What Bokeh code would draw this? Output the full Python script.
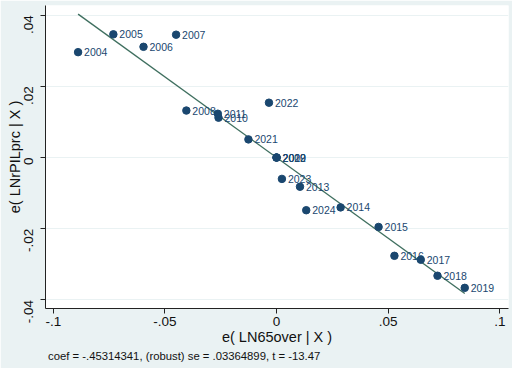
import math
from bokeh.plotting import figure
from bokeh.models import ColumnDataSource, FixedTicker, LabelSet, Title
from bokeh.embed import file_html
from bokeh.resources import INLINE
from bokeh.core.properties import value

# ---- data ----
years = ["2004", "2005", "2006", "2007", "2008", "2009", "2010", "2011", "2012",
         "2013", "2014", "2015", "2016", "2017", "2018", "2019", "2020", "2021",
         "2022", "2023", "2024"]
x_resid = [-0.0889, -0.0731, -0.0596, -0.0450, -0.0404, 0.0000, -0.0260, -0.0263, 0.0000,
           0.0105, 0.0287, 0.0457, 0.0528, 0.0646, 0.0721, 0.0843, 0.0000, -0.0126,
           -0.0034, 0.0024, 0.0133]
y_resid = [0.0296, 0.0346, 0.0311, 0.0345, 0.0132, 0.0000, 0.0112, 0.0123, 0.0000,
           -0.0082, -0.0140, -0.0195, -0.0276, -0.0287, -0.0332, -0.0366, 0.0000, 0.0051,
           0.0154, -0.0060, -0.0148]
coef = -0.45314341
note = "coef = -.45314341, (robust) se = .03364899, t = -13.47"

x_ticks = [-0.1, -0.05, 0.0, 0.05, 0.1]
x_tick_labels = ["-.1", "-.05", "0", ".05", ".1"]
y_ticks = [-0.04, -0.02, 0.0, 0.02, 0.04]
y_tick_labels = ["-.04", "-.02", "0", ".02", ".04"]

FONT = "Liberation Sans"
NAVY = "#1a476f"
BG = "#eaf2f3"

p = figure(frame_width=463, frame_height=303,
           x_range=(-0.1035, 0.1039), y_range=(-0.0424, 0.0427),
           output_backend="svg", toolbar_location=None,
           min_border_left=45, min_border_right=4, min_border_top=5,
           min_border_bottom=60)
p.border_fill_color = BG
p.background_fill_color = "white"
p.outline_line_color = None

# fitted line
xmin, xmax = min(x_resid), max(x_resid)
p.line([xmin, xmax], [coef * xmin, coef * xmax], line_color="#3f6f5f", line_width=1.3)

src = ColumnDataSource(dict(x=x_resid, y=y_resid, t=years))
p.scatter("x", "y", source=src, size=7.5, fill_color=NAVY, line_color=NAVY)
labels = LabelSet(x="x", y="y", text="t", source=src, x_offset=6, y_offset=0,
                  text_baseline="middle", text_font=value(FONT),
                  text_font_size="10.5px", text_color=NAVY)
p.add_layout(labels)

# axes
for ax, ticks, tl in ((p.xaxis[0], x_ticks, x_tick_labels), (p.yaxis[0], y_ticks, y_tick_labels)):
    ax.ticker = FixedTicker(ticks=ticks, minor_ticks=[])
    ax.major_label_overrides = {t: s for t, s in zip(ticks, tl)}
    ax.major_label_text_font = FONT
    ax.major_label_text_font_size = "13.5px"
    ax.major_label_text_color = "#111111"
    ax.axis_label_text_font = FONT
    ax.axis_label_text_font_size = "14.5px"
    ax.axis_label_text_font_style = "normal"
    ax.axis_label_text_color = "#111111"
    ax.axis_line_color = "#222222"
    ax.major_tick_line_color = "#222222"
    ax.major_tick_in = 0
    ax.major_tick_out = 5
    ax.minor_tick_line_color = None

p.xaxis.axis_label = "e( LN65over | X )"
p.yaxis.axis_label = "e( LNrPILprc | X )"
p.xaxis.major_label_standoff = 3
p.xaxis.axis_label_standoff = 0
p.yaxis.major_label_orientation = math.pi / 2
p.yaxis.major_label_standoff = 12
p.yaxis.axis_label_standoff = -6

p.xgrid.grid_line_color = None
p.ygrid.ticker = FixedTicker(ticks=y_ticks)
p.ygrid.grid_line_color = BG
p.ygrid.grid_line_width = 1

p.add_layout(Title(text=note, align="left", offset=2.5, standoff=0,
                   text_font=FONT, text_font_size="11.3px",
                   text_font_style="normal", text_color="#111111"), "below")

open("out.html", "w").write(file_html(p, INLINE))
